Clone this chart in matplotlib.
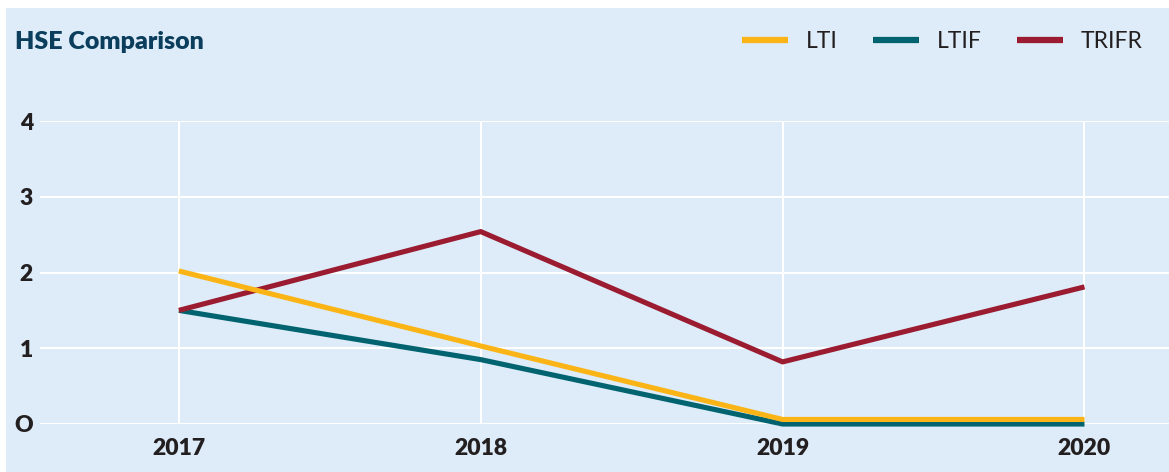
import matplotlib.pyplot as plt
from matplotlib.lines import Line2D
from matplotlib.patches import Rectangle

years = [2017, 2018, 2019, 2020]
lti = [2.02, 1.03, 0.06, 0.06]
ltif = [1.5, 0.85, 0.0, 0.0]
trifr = [1.5, 2.54, 0.82, 1.81]
series_names = ["LTI", "LTIF", "TRIFR"]
ytick_labels = ["O", "1", "2", "3", "4"]

BG = "#ddecf8"
COLORS = {"LTI": "#fbb416", "LTIF": "#00636f", "TRIFR": "#9b1b30"}
TEXT = "#231f20"

plt.rcParams["font.family"] = ["Lato", "DejaVu Sans"]

fig = plt.figure(figsize=(11.69, 4.72), dpi=100)
fig.patch.set_facecolor("white")
# light blue panel, with a thin white strip on the top and left
fig.patches.append(Rectangle((6 / 1169, 0), 1, 1 - 8 / 472,
                             transform=fig.transFigure, facecolor=BG,
                             edgecolor="none", zorder=-10))

ax = fig.add_axes([40 / 1169, 48 / 472, 1 - 40 / 1169, (424 - 121) / 472])
ax.set_facecolor("none")
ax.set_xlim(2016.54, 2020.28)
ax.set_ylim(0, 4)

for s in ax.spines.values():
    s.set_visible(False)

ax.set_xticks(years)
ax.set_xticklabels([str(y) for y in years])
ax.set_yticks(range(5))
ax.set_yticklabels(ytick_labels)
ax.tick_params(length=0, labelsize=16.5, labelcolor=TEXT)
ax.tick_params(axis="x", pad=10)
ax.tick_params(axis="y", pad=5)
for lab in ax.get_xticklabels() + ax.get_yticklabels():
    lab.set_fontweight("heavy")

ax.grid(True, color="white", linewidth=1.5)
ax.set_axisbelow(True)

ax.plot(years, ltif, color=COLORS["LTIF"], lw=3.7, clip_on=False,
        solid_capstyle="butt", zorder=3)
ax.plot(years, trifr, color=COLORS["TRIFR"], lw=3.7, clip_on=False,
        solid_capstyle="butt", zorder=4)
ax.plot(years, lti, color=COLORS["LTI"], lw=3.7, clip_on=False,
        solid_capstyle="butt", zorder=5)

fig.text(15 / 1169, 1 - 42 / 472, "HSE Comparison", fontsize=18,
         fontweight="heavy", color="#0b3d5c", va="center", ha="left")

handles = [Line2D([], [], color=COLORS[n], lw=4.5, solid_capstyle="butt")
           for n in series_names]
leg = fig.legend(handles, series_names, loc="center right",
                 bbox_to_anchor=(1 - 17 / 1169, 1 - 42 / 472), ncol=3,
                 frameon=False, fontsize=16.5, handlelength=2.0,
                 handletextpad=0.78, columnspacing=1.55, borderaxespad=0)
for t in leg.get_texts():
    t.set_color(TEXT)

fig.savefig("out.png", dpi=100, facecolor=fig.get_facecolor())
